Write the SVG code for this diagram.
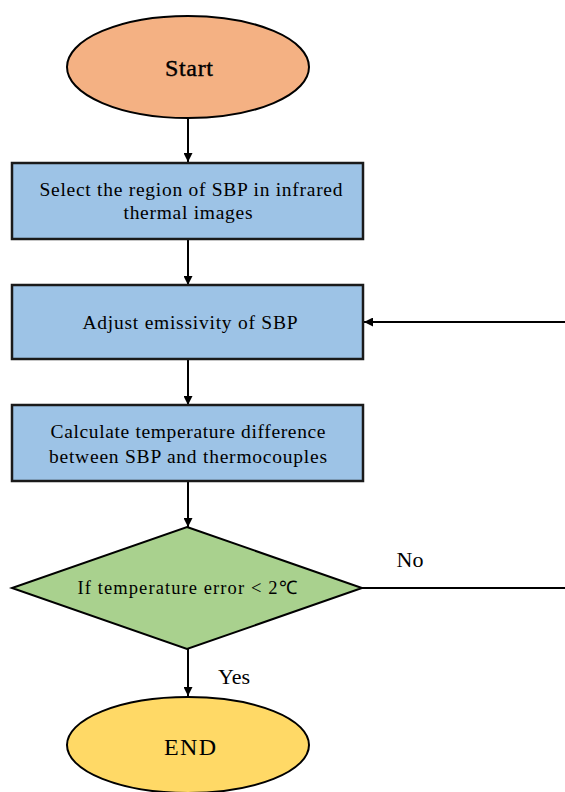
<svg xmlns="http://www.w3.org/2000/svg" width="565" height="792" viewBox="0 0 565 792">
  <style>
    .shape { stroke: #000; stroke-width: 2; }
    .box { fill: #9DC3E6; stroke: #1a1a1a; stroke-width: 2.5; }
    .txt { font-family: "Liberation Serif", "Times New Roman", serif; fill: #000; text-anchor: middle; }
    .t19 { font-size: 19.5px; }
    .t22 { font-size: 22px; }
    .edge { stroke: #000; stroke-width: 2; fill: none; }
  </style>
  <defs>
    <marker id="arrow" viewBox="0 0 10 10" refX="10" refY="5" markerWidth="10" markerHeight="9" orient="auto" markerUnits="userSpaceOnUse">
      <path d="M0,0 L10,5 L0,10 z" fill="#000"/>
    </marker>
  </defs>
  <rect width="565" height="792" fill="#fff"/>

  <g id="connectors">
    <line class="edge" x1="188" y1="118" x2="188" y2="162" marker-end="url(#arrow)"/>
    <line class="edge" x1="188" y1="239" x2="188" y2="285" marker-end="url(#arrow)"/>
    <line class="edge" x1="188" y1="359" x2="188" y2="405" marker-end="url(#arrow)"/>
    <line class="edge" x1="188" y1="481" x2="188" y2="527" marker-end="url(#arrow)"/>
    <line class="edge" x1="188" y1="648" x2="188" y2="696" marker-end="url(#arrow)"/>
    <line class="edge" x1="362" y1="588" x2="565" y2="588"/>
    <line class="edge" x1="565" y1="322" x2="364" y2="322" marker-end="url(#arrow)"/>
    <text class="txt t22" x="410" y="567">No</text>
    <text class="txt t22" x="234" y="684">Yes</text>
  </g>

  <g id="start">
    <ellipse class="shape" cx="188" cy="67" rx="121" ry="51" fill="#F4B183"/>
    <text class="txt" x="189" y="76" font-size="24" stroke="#000" stroke-width="0.4" textLength="48">Start</text>
  </g>

  <g id="select-region">
    <rect class="box" x="12" y="163" width="351" height="76"/>
    <text class="txt t19" x="191" y="196" textLength="303">Select the region of SBP in infrared</text>
    <text class="txt t19" x="188" y="219" textLength="129">thermal images</text>
  </g>

  <g id="adjust-emissivity">
    <rect class="box" x="12" y="285" width="351" height="74"/>
    <text class="txt t19" x="190" y="329" textLength="215">Adjust emissivity of SBP</text>
  </g>

  <g id="calculate-difference">
    <rect class="box" x="12" y="405" width="351" height="76"/>
    <text class="txt t19" x="188" y="438" textLength="275">Calculate temperature difference</text>
    <text class="txt t19" x="188" y="463" textLength="278">between SBP and thermocouples</text>
  </g>

  <g id="check-error">
    <polygon class="shape" points="187,527 362,588 187,649 12,588" fill="#A9D18E"/>
    <text class="txt" x="187" y="594" font-size="18.5" textLength="219">If temperature error &lt; 2℃</text>
  </g>

  <g id="end">
    <ellipse class="shape" cx="188" cy="745" rx="121" ry="48" fill="#FFD966"/>
    <text class="txt" x="190" y="755" font-size="24" textLength="52">END</text>
  </g>
</svg>
